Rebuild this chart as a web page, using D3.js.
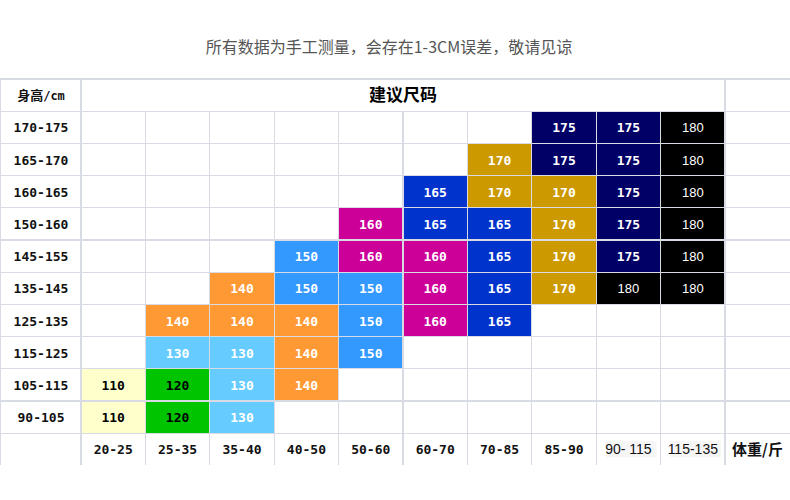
<!DOCTYPE html>
<html>
<head>
<meta charset="utf-8">
<script src="https://cdn.jsdelivr.net/npm/d3@7/dist/d3.min.js"></script>
<style>
  html, body { margin: 0; padding: 0; background: #fff; }
  svg { display: block; }
</style>
</head>
<body>
<div id="chart"></div>
<script>
// chart data
const title = "所有数据为手工测量，会存在1-3CM误差，敬请见谅";
const header = "建议尺码";
const heightLabel = ["身高", "/cm"];
const weightLabel = "体重/斤";
const heights = ["170-175", "165-170", "160-165", "150-160", "145-155", "135-145", "125-135", "115-125", "105-115", "90-105"];
const weights = ["20-25", "25-35", "35-40", "40-50", "50-60", "60-70", "70-85", "85-90", "90- 115", "115-135"];
// recommended size per height row (top to bottom), one entry per weight column, null = empty
const sizes = [
  [null, null, null, null, null, null, null, 175, 175, 180],
  [null, null, null, null, null, null, 170, 175, 175, 180],
  [null, null, null, null, null, 165, 170, 170, 175, 180],
  [null, null, null, null, 160, 165, 165, 170, 175, 180],
  [null, null, null, 150, 160, 160, 165, 170, 175, 180],
  [null, null, 140, 150, 150, 160, 165, 170, 180, 180],
  [null, 140, 140, 140, 150, 160, 165, null, null, null],
  [null, 130, 130, 140, 150, null, null, null, null, null],
  [110, 120, 130, 140, null, null, null, null, null, null],
  [110, 120, 130, null, null, null, null, null, null, null]
];
const sizeKeys = [110, 120, 130, 140, 150, 160, 165, 170, 175, 180];
const sizeColors = ["#ffffcc", "#00c400", "#66ccff", "#ff9933", "#3399ff", "#cc0099", "#0033cc", "#cc9900", "#000066", "#000000"];
const sizeText = ["#000", "#000", "#fff", "#fff", "#fff", "#fff", "#fff", "#fff", "#fff", "#fff"];

const width = 790, height = 500;
const top0 = 79, rowH = 32.2, firstW = 81, lastX = 725;
const gridColor = "#d8dbe3";
const mono = "'DejaVu Sans Mono', 'Liberation Mono', monospace";
const cjk = "'Noto Sans CJK SC', sans-serif";

const svg = d3.select("#chart").append("svg")
  .attr("width", width)
  .attr("height", height);

const fill = d3.scaleOrdinal().domain(sizeKeys).range(sizeColors);
const ink = d3.scaleOrdinal().domain(sizeKeys).range(sizeText);

const x = d3.scaleBand().domain(weights).range([firstW, lastX]);
const y = d3.scaleBand().domain(heights).range([top0 + rowH, top0 + rowH * 11]);
const footY = top0 + rowH * 11, bottom = top0 + rowH * 12;

// title
svg.append("text")
  .attr("x", 389).attr("y", 53)
  .attr("text-anchor", "middle")
  .style("font-family", cjk).style("font-size", "16px")
  .style("fill", "#555")
  .text(title);

// cells
const cells = [];
sizes.forEach((row, i) => row.forEach((v, j) => {
  if (v !== null) cells.push({h: heights[i], w: weights[j], v: v});
}));

svg.append("g").selectAll("rect")
  .data(cells)
  .join("rect")
  .attr("x", d => x(d.w))
  .attr("y", d => y(d.h))
  .attr("width", x.bandwidth())
  .attr("height", y.bandwidth())
  .attr("fill", d => fill(d.v));

// pale background behind the last two weight labels, as in the scan
svg.append("g").selectAll("rect")
  .data(weights.slice(8))
  .join("rect")
  .attr("x", d => x(d) + 10)
  .attr("y", footY + 8)
  .attr("width", x.bandwidth() - 14)
  .attr("height", rowH - 16)
  .attr("fill", "#f6f6f6");

// grid lines
const grid = svg.append("g")
  .attr("stroke", gridColor)
  .attr("stroke-width", 1.2)
  .attr("shape-rendering", "crispEdges");

const hLines = [top0, top0 + rowH].concat(heights.map(h => y(h) + y.bandwidth()));
grid.selectAll("line.h")
  .data(hLines)
  .join("line")
  .attr("class", "h")
  .attr("x1", 0).attr("x2", width)
  .attr("y1", d => d).attr("y2", d => d);

const vOuter = [0.5, firstW, lastX];
grid.selectAll("line.v")
  .data(vOuter)
  .join("line")
  .attr("class", "v")
  .attr("x1", d => d).attr("x2", d => d)
  .attr("y1", top0)
  .attr("y2", bottom);

// inner column lines (header row merged across weights)
grid.selectAll("line.vi")
  .data(weights.slice(1))
  .join("line")
  .attr("class", "vi")
  .attr("x1", d => x(d)).attr("x2", d => x(d))
  .attr("y1", top0 + rowH).attr("y2", bottom);

// cell values
svg.append("g").selectAll("text")
  .data(cells)
  .join("text")
  .attr("x", d => x(d.w) + x.bandwidth() / 2)
  .attr("y", d => y(d.h) + y.bandwidth() / 2 + 5)
  .attr("text-anchor", "middle")
  .style("font-family", d => d.v === 180 ? "'Liberation Sans', Arial, sans-serif" : mono)
  .style("font-weight", d => d.v === 180 ? "normal" : "bold")
  .style("font-size", "13px")
  .style("fill", d => ink(d.v))
  .text(d => d.v);

// header row
const hl = svg.append("text")
  .attr("x", 41).attr("y", top0 + rowH / 2 + 5)
  .attr("text-anchor", "middle")
  .style("font-weight", "bold").style("font-size", "13px")
  .style("fill", "#111");
hl.append("tspan").style("font-family", cjk).text(heightLabel[0]);
hl.append("tspan").style("font-family", mono).style("font-size", "12px").text(heightLabel[1]);

svg.append("text")
  .attr("x", (firstW + lastX) / 2).attr("y", top0 + rowH / 2 + 6)
  .attr("text-anchor", "middle")
  .style("font-family", cjk).style("font-weight", "bold").style("font-size", "17px")
  .text(header);

// height labels
svg.append("g").selectAll("text")
  .data(heights)
  .join("text")
  .attr("x", 41)
  .attr("y", d => y(d) + y.bandwidth() / 2 + 5)
  .attr("text-anchor", "middle")
  .style("font-family", mono).style("font-weight", "bold").style("font-size", "13px")
  .style("fill", "#111")
  .text(d => d);

// weight labels
svg.append("g").selectAll("text")
  .data(weights)
  .join("text")
  .attr("x", d => x(d) + x.bandwidth() / 2)
  .attr("y", footY + rowH / 2 + 5)
  .attr("text-anchor", "middle")
  .style("font-family", (d, i) => i >= 8 ? "'Liberation Sans Narrow', 'Liberation Sans', sans-serif" : mono)
  .style("font-weight", (d, i) => i >= 8 ? "normal" : "bold")
  .style("font-size", (d, i) => i >= 8 ? "14px" : "13px")
  .style("fill", "#111")
  .text(d => d);

svg.append("text")
  .attr("x", (lastX + width) / 2).attr("y", footY + rowH / 2 + 6)
  .attr("text-anchor", "middle")
  .style("font-family", cjk).style("font-weight", "bold").style("font-size", "15px")
  .style("fill", "#111")
  .text(weightLabel);
</script>
</body>
</html>
